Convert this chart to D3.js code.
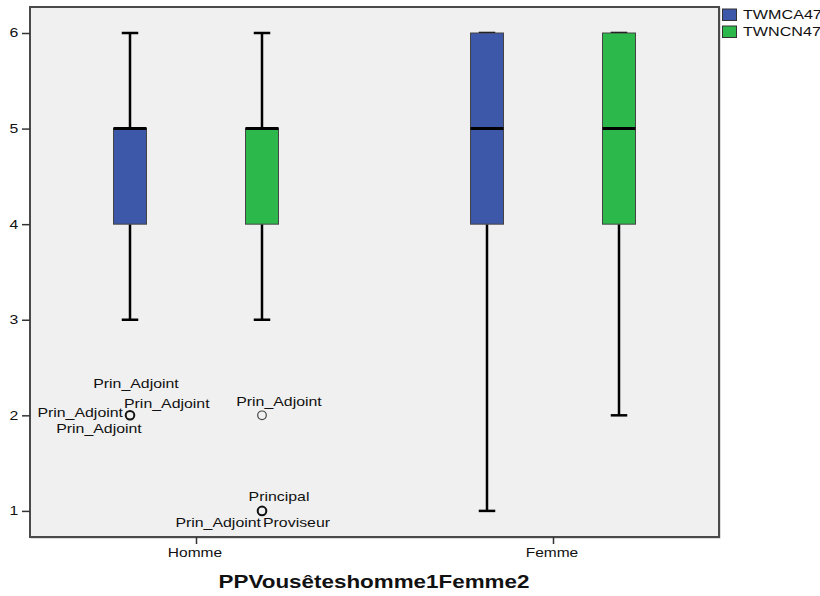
<!DOCTYPE html>
<html><head><meta charset="utf-8">
<script src="https://cdn.jsdelivr.net/npm/d3@7"></script>
<style>body{margin:0;background:#fff}svg{display:block}text{font-family:"Liberation Sans",Arial,sans-serif;fill:#111}</style>
</head><body>
<svg id="c" width="820" height="596"></svg>
<script>
// ---- data ----
const groups = ["Homme", "Femme"];
const series = ["TWMCA47", "TWNCN47"];
const yTicks = [1, 2, 3, 4, 5, 6];
const xTitle = "PPVousêteshomme1Femme2";
// box statistics per group (Homme, Femme)
const mcaMin = [3, 1], mcaQ1 = [4, 4], mcaMedian = [5, 5], mcaQ3 = [5, 6], mcaMax = [6, 6];
const ncnMin = [3, 2], ncnQ1 = [4, 4], ncnMedian = [5, 5], ncnQ3 = [5, 6], ncnMax = [6, 6];
// outliers
const outlierGroup = ["Homme", "Homme", "Homme"];
const outlierSeries = ["TWMCA47", "TWNCN47", "TWNCN47"];
const outlierValue = [2, 2, 1];
const outlierCount = [4, 1, 3];
const outlierLabels = [
  ["Prin_Adjoint", "Prin_Adjoint", "Prin_Adjoint", "Prin_Adjoint"],
  ["Prin_Adjoint"],
  ["Principal", "Prin_Adjoint", "Proviseur"]
];
// ---- layout ----
const labelPlace = [
  [[6, -32, "middle"], [-6, -12, "start"], [-7, -3, "end"], [-31, 13, "middle"]],
  [[17, -14, "middle"]],
  [[17, -14, "middle"], [-1, 12, "end"], [1, 12, "start"]]
];
const colors = {"TWMCA47": "#3d57a9", "TWNCN47": "#2db84b"};
const K = 1.26; // horizontal stretch of text in the reference

const svg = d3.select("#c");
const L = 30, T = 7, R = 719, B = 537;

const x = d3.scalePoint().domain(groups).range([L, R]).padding(0.465);
const y = d3.scaleLinear().domain([0.727, 6.272]).range([B, T]);
const off = d3.scaleOrdinal().domain(series).range([-66, 66]);
const boxW = 33;

function stext(g, str, px, py, anchor, size, weight) {
  const t = g.append("text").attr("x", px).attr("y", py).attr("dy", "0.35em")
    .style("font-size", size + "px").style("font-weight", weight || "normal").text(str);
  const w = t.node().getComputedTextLength();
  const tw = w * K;
  const sx = anchor === "middle" ? px - tw / 2 : anchor === "end" ? px - tw : px;
  t.attr("x", sx).attr("textLength", tw).attr("lengthAdjust", "spacingAndGlyphs");
  return t;
}

// plot background + border
svg.append("rect").attr("x", L + 1).attr("y", T + 1).attr("width", R - L).attr("height", B - T)
  .attr("fill", "none").attr("stroke", "#bbb").attr("stroke-width", 1);
svg.append("rect").attr("x", L).attr("y", T).attr("width", R - L).attr("height", B - T)
  .attr("fill", "#f0f0f0").attr("stroke", "#4a4a4a").attr("stroke-width", 2);

// y axis
const yAxis = svg.append("g").attr("transform", `translate(${L},0)`)
  .call(d3.axisLeft(y).tickValues(yTicks).tickSize(8).tickFormat(""));
yAxis.select(".domain").remove();
yAxis.selectAll(".tick line").attr("stroke", "#333").attr("stroke-width", 1.5);
yTicks.forEach(v => stext(svg, String(v), 14, y(v), "middle", 12.5));

// x axis
const xAxis = svg.append("g").attr("transform", `translate(0,${B})`)
  .call(d3.axisBottom(x).tickSize(7).tickFormat(""));
xAxis.select(".domain").remove();
xAxis.selectAll(".tick line").attr("stroke", "#333").attr("stroke-width", 1.5);
groups.forEach(g => stext(svg, g, x(g) - 1, 553, "middle", 12.3));
stext(svg, xTitle, 374, 582, "middle", 17.8, "bold");

// boxes
const stats = {
  "TWMCA47": {min: mcaMin, q1: mcaQ1, med: mcaMedian, q3: mcaQ3, max: mcaMax},
  "TWNCN47": {min: ncnMin, q1: ncnQ1, med: ncnMedian, q3: ncnQ3, max: ncnMax}
};
const boxes = [];
groups.forEach((g, gi) => series.forEach(s => {
  const st = stats[s];
  boxes.push({g, s, min: st.min[gi], q1: st.q1[gi], med: st.med[gi], q3: st.q3[gi], max: st.max[gi]});
}));
const bg = svg.append("g").selectAll("g").data(boxes).join("g")
  .attr("transform", d => `translate(${x(d.g) + off(d.s)},0)`);
bg.append("line").attr("y1", d => y(d.q3)).attr("y2", d => y(d.max)).attr("stroke", "#000").attr("stroke-width", 2.5);
bg.append("line").attr("y1", d => y(d.q1)).attr("y2", d => y(d.min)).attr("stroke", "#000").attr("stroke-width", 2.5);
bg.append("line").attr("x1", -boxW / 4).attr("x2", boxW / 4).attr("y1", d => y(d.max)).attr("y2", d => y(d.max)).attr("stroke", "#000").attr("stroke-width", 2.5);
bg.append("line").attr("x1", -boxW / 4).attr("x2", boxW / 4).attr("y1", d => y(d.min)).attr("y2", d => y(d.min)).attr("stroke", "#000").attr("stroke-width", 2.5);
bg.append("rect").attr("x", -boxW / 2).attr("width", boxW)
  .attr("y", d => y(d.q3)).attr("height", d => y(d.q1) - y(d.q3))
  .attr("fill", d => colors[d.s]).attr("stroke", "#444").attr("stroke-width", 1);
bg.append("line").attr("x1", -boxW / 2).attr("x2", boxW / 2).attr("y1", d => y(d.med)).attr("y2", d => y(d.med)).attr("stroke", "#000").attr("stroke-width", 3);

// outliers
outlierValue.forEach((v, i) => {
  const cx = x(outlierGroup[i]) + off(outlierSeries[i]);
  const cy = y(v);
  svg.append("circle").attr("cx", cx).attr("cy", cy).attr("r", 4.3)
    .attr("fill", "none").attr("stroke", outlierCount[i] > 1 ? "#111" : "#444")
    .attr("stroke-width", outlierCount[i] > 1 ? 2 : 1.2);
  outlierLabels[i].forEach((lab, j) => {
    const p = labelPlace[i][j];
    stext(svg, lab, cx + p[0], cy + p[1], p[2], 12.6);
  });
});

// legend
series.forEach((s, i) => {
  const ly = 14.5 + i * 17;
  svg.append("rect").attr("x", 722.5).attr("y", ly - 5.5).attr("width", 14).attr("height", 11.5)
    .attr("fill", colors[s]).attr("stroke", "#333").attr("stroke-width", 1);
  stext(svg, s, 743, ly, "start", 12.8);
});
</script>
</body></html>
